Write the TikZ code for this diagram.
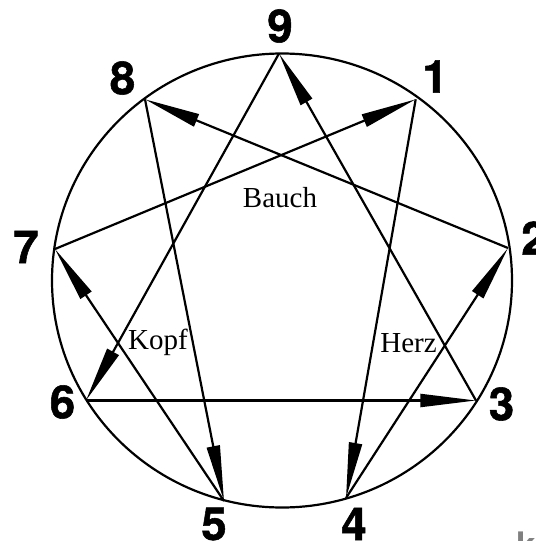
\documentclass[tikz,border=0pt]{standalone}
\usepackage{fontspec}
\setmainfont{Liberation Serif}
\setsansfont{TeX Gyre Heros}
\newfontfamily\numfont{texgyreheros-bold}[Extension=.otf, FakeBold=1.2]
\usetikzlibrary{arrows.meta}

\begin{document}
\begin{tikzpicture}[x=0.02cm, y=-0.02cm,
  num/.style={font=\numfont\fontsize{26}{30}\selectfont, inner sep=0pt},
  lbl/.style={font=\fontsize{16.5}{20}\selectfont, inner sep=0pt, anchor=base},
  edge/.style={line width=1.25pt, -{Triangle[length=31.7pt, width=7.4pt]}}]
  \useasboundingbox (0,0) rectangle (535,541);

  % Outer circle
  \draw[line width=1.25pt] (282,280.5) ellipse [x radius=230, y radius=227];

  % Points on the circle
  \coordinate (v9) at (279,53.5);
  \coordinate (v1) at (415.7,99.3);
  \coordinate (v2) at (508,248);
  \coordinate (v3) at (476,400.5);
  \coordinate (v4) at (346,498);
  \coordinate (v5) at (224,501);
  \coordinate (v6) at (86,400.5);
  \coordinate (v7) at (55,249);
  \coordinate (v8) at (145,99.3);

  % Hexad 1-4-2-8-5-7 and triangle 3-9-6
  \foreach \a/\b in {1/4,4/2,2/8,8/5,5/7,7/1,3/9,9/6,6/3}
    \draw[edge] (v\a) -- (v\b);

  % Numbers
  \node[num] (n9) at (280,26) {9};
  \node[num] (n1) at (435,76.5) {1};
  \node[num] (n2) at (534,238) {2};
  \node[num] (n3) at (501.5,404) {3};
  \node[num] (n4) at (354,524) {4};
  \node[num] (n5) at (214,524) {5};
  \node[num] (n6) at (62.5,402) {6};
  \node[num] (n7) at (26,247) {7};
  \node[num] (n8) at (122.5,78) {8};

  % Centres
  \node[lbl] (bauch) at (280,207.7) {Bauch};
  \node[lbl] (kopf) at (158,349) {Kopf};
  \node[lbl] (herz) at (408.5,352.7) {Herz};

  % Caption start (cut off)
  \node[font=\sffamily\bfseries\fontsize{20}{24}\selectfont, text=gray, anchor=north west, inner sep=0pt] (ka) at (516,532) {ka};
\end{tikzpicture}
\end{document}
